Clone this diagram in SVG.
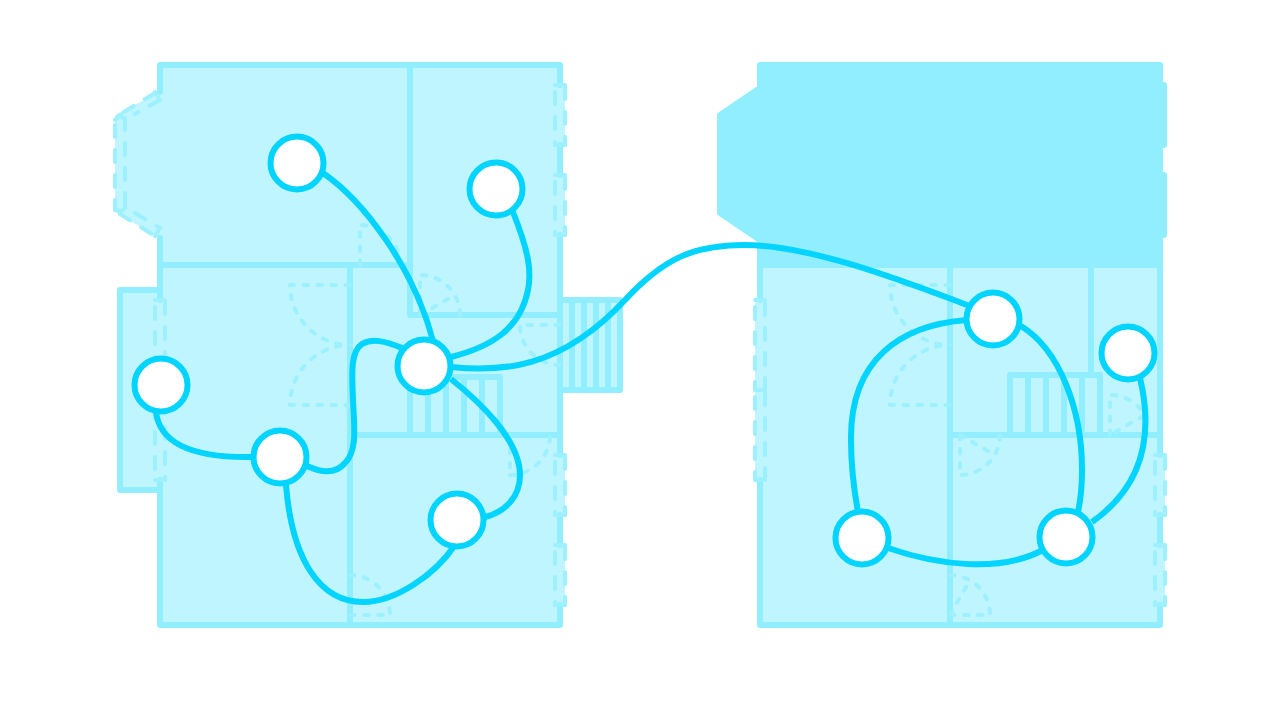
<svg xmlns="http://www.w3.org/2000/svg" width="1280" height="720" viewBox="0 0 1280 720">
<style>
.room{fill:#BFF5FF;stroke:none}
.wall{fill:none;stroke:#91EEFF;stroke-width:6;stroke-linejoin:round;stroke-linecap:round}
.solid{fill:#91EEFF;stroke:#91EEFF;stroke-width:6;stroke-linejoin:round}
.door{fill:none;stroke:#9CF0FF;stroke-width:4;stroke-linecap:round;stroke-linejoin:round;stroke-dasharray:4.5 9.5}
.win{fill:none;stroke:#9CF0FF;stroke-width:4;stroke-linecap:round;stroke-dasharray:12 13}
.cap{fill:none;stroke:#9CF0FF;stroke-width:4;stroke-linecap:round;stroke-linejoin:round}
.link{fill:none;stroke:#00D4FF;stroke-width:6;stroke-linecap:butt}
.node circle{fill:#FFFFFF;stroke:#00D4FF;stroke-width:6}
</style>
<g id="plan-left">
<path class="room" d="M160 65H560V85H565V145H560V175H565V235H560V300H620V390H560V455H565V515H560V545H565V605H560V625H160V490H120V290H160V238L115 212V115L160 92Z"/>
<path class="wall" d="M160 92V65H560V85M560 145V175M560 235V455M560 515V545M560 605V625H160V480M160 300V238M160 290H120V490H160"/>
<path class="wall" d="M160 265H410M410 65V315H560M350 265V625M350 435H560"/>
<path class="wall" d="M410 435V377H500V435M428 377V435M446 377V435M464 377V435M482 377V435"/>
<path class="wall" d="M560 300H620V390H560M572 300V390M584 300V390M596 300V390M608 300V390"/>
<path class="win" d="M555 92V145M565 87V145M555 182V235M565 177V235M555 462V515M565 457V515M555 552V605M565 547V605M155 307V480M165 302V480M115 125V210M125 118V210M155 93L122 113M160 100L135 114M120 214L155 236M135 213L160 228"/>
<path class="cap" d="M555 85H565M555 145H565M555 175H565M555 235H565M555 455H565M555 515H565M555 545H565M555 605H565M155 300H165M155 480H165M155 92L160 100M120 115L115 120M120 115L125 120M120 212L115 208M120 212L125 208M155 236L160 228"/>
<path class="door" d="M350 285H290A60 60 0 0 0 350 345M350 405H290A60 60 0 0 1 350 345M360 265V225A40 40 0 0 1 400 265M420 315V275A40 40 0 0 1 460 315M420 315L455 295M560 325H520A40 40 0 0 0 560 365M510 435V475H525M510 475A40 40 0 0 0 550 435M350 575A40 40 0 0 1 390 615H350"/>
</g>
<g id="plan-right">
<path class="room" d="M760 265H1160V455H1165V515H1160V545H1165V605H1160V625H760V480H755V300H760Z"/>
<path class="solid" d="M760 65H1160V85H1164V145H1160V175H1164V235H1160V265H760V240L720 213V115L760 88Z"/>
<path class="wall" d="M760 265V300M760 480V625H1160V605M1160 545V515M1160 455V265"/>
<path class="wall" d="M950 265V625M950 435H1160M1091 265V375"/>
<path class="wall" d="M1010 435V375H1100V435M1028 375V435M1046 375V435M1064 375V435M1082 375V435"/>
<path class="win" d="M755 307V388M765 303V388M755 397V478M765 393V478M1155 462V515M1165 457V515M1155 552V605M1165 547V605"/>
<path class="cap" d="M755 300H765M755 390H765M755 480H765M1155 455H1165M1155 515H1165M1155 545H1165M1155 605H1165"/>
<path class="door" d="M950 285H890A60 60 0 0 0 950 345M950 405H890A60 60 0 0 1 950 345M1110 435V395A40 40 0 0 1 1145 415L1110 435M960 435V475A40 40 0 0 0 1000 435M960 435L995 455M950 615H990A40 40 0 0 0 950 575M950 615L970 580"/>
</g>
<g id="connectors">
<path class="link" d="M323 173C362 200 413 265 433 341"/>
<path class="link" d="M513 212C528 250 532 270 528 290C520 330 490 347 451 357"/>
<path class="link" d="M451 367C500 372 560 370 625 300C665 257 695 245 745 245C810 245 900 280 970 306"/>
<path class="link" d="M402 348C385 341 372 338 362 344C350 352 352 375 353 400C354 425 358 450 345 463C335 475 320 472 307 466"/>
<path class="link" d="M156 412C160 445 195 458 252 457"/>
<path class="link" d="M286 485C292 560 320 602 363 602C395 602 435 575 455 545"/>
<path class="link" d="M451 379C480 402 520 440 520 475C520 497 505 512 485 517"/>
<path class="link" d="M967 320C900 325 850 360 851 440C851 465 854 490 858 512"/>
<path class="link" d="M1021 326C1060 350 1082 410 1082 470C1082 485 1081 498 1078 512"/>
<path class="link" d="M1140 378C1150 420 1152 480 1092 522"/>
<path class="link" d="M888 548C940 566 1000 572 1041 551"/>
</g>
<g id="node-1" class="node"><circle cx="297" cy="163" r="26.5"/></g>
<g id="node-2" class="node"><circle cx="496" cy="189" r="26.5"/></g>
<g id="node-3" class="node"><circle cx="424" cy="366" r="26.5"/></g>
<g id="node-4" class="node"><circle cx="161" cy="385" r="26.5"/></g>
<g id="node-5" class="node"><circle cx="280" cy="457" r="26.5"/></g>
<g id="node-6" class="node"><circle cx="457" cy="520" r="26.5"/></g>
<g id="node-7" class="node"><circle cx="993" cy="319" r="26.5"/></g>
<g id="node-8" class="node"><circle cx="1128" cy="353" r="26.5"/></g>
<g id="node-9" class="node"><circle cx="862" cy="538" r="26.5"/></g>
<g id="node-10" class="node"><circle cx="1066" cy="537" r="26.5"/></g>
</svg>
